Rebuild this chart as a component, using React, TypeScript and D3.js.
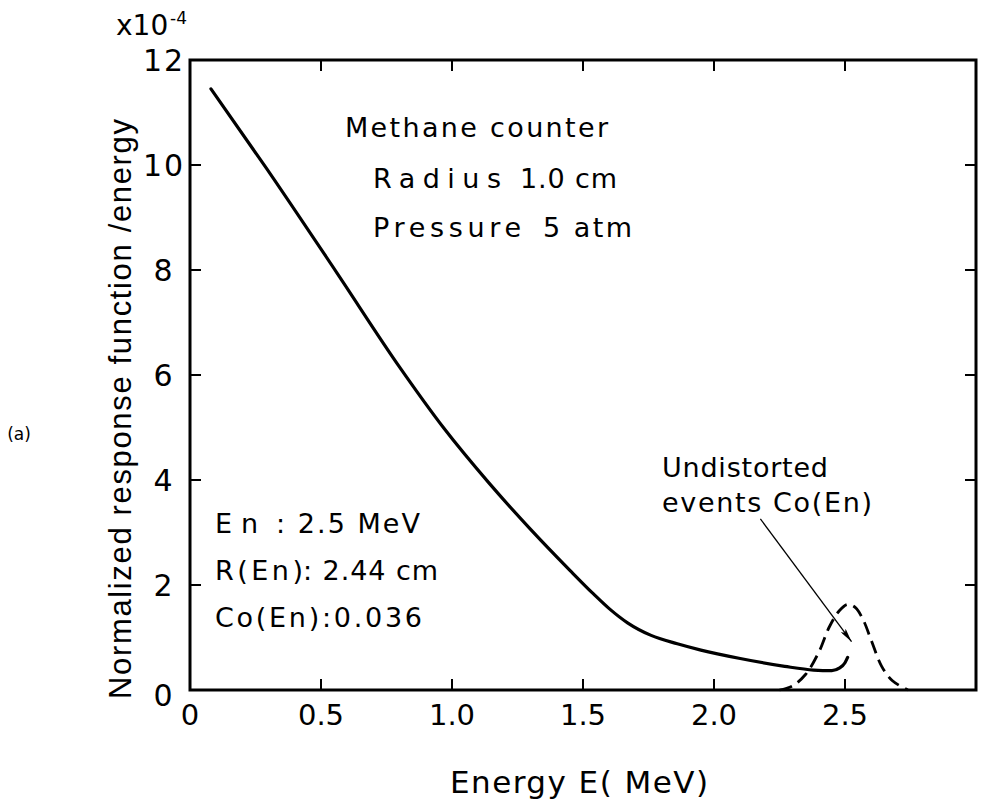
import React from 'react';
import * as d3 from 'd3';

// energy (MeV) and response / energy (x10^-4)
const solidE = [0.08, 0.29, 0.56, 0.80, 0.97, 1.14, 1.30, 1.45, 1.54, 1.60, 1.67, 1.76, 1.86, 1.95, 2.10, 2.27, 2.38, 2.45, 2.48, 2.50, 2.51];
const solidV = [11.45, 9.95, 7.95, 6.15, 4.98, 3.95, 3.06, 2.28, 1.83, 1.55, 1.28, 1.04, 0.88, 0.76, 0.6, 0.45, 0.38, 0.37, 0.42, 0.52, 0.62];

const dashE = [2.25, 2.30, 2.35, 2.40, 2.44, 2.48, 2.51, 2.54, 2.57, 2.60, 2.64, 2.68, 2.74];
const dashV = [0, 0.08, 0.3, 0.72, 1.2, 1.52, 1.63, 1.57, 1.33, 0.95, 0.45, 0.18, 0];

const xTicks = [0, 0.5, 1.0, 1.5, 2.0, 2.5];
const xTickLabels = ['0', '0.5', '1.0', '1.5', '2.0', '2.5'];
const xTicksFrame = [0.5, 1.0, 1.5, 2.0, 2.5];
const yTicks = [0, 2, 4, 6, 8, 10, 12];
const yTickLabels = ['0', '2', '4', '6', '8', '10', '12'];

// arrow of the "Undistorted events" note, in data units
const arrowFrom = [2.177, 3.26];
const arrowTo = [2.525, 0.92];

const font = "'DejaVu Sans', Verdana, sans-serif";
const font2 = "'Liberation Sans', Arial, sans-serif";

export default function App() {
    const margin = {left: 190, right: 24, top: 60, bottom: 116};
    const W = 1000, H = 806;
    const x = d3.scaleLinear().domain([0, 3]).range([margin.left, W - margin.right]);
    const y = d3.scaleLinear().domain([0, 12]).range([H - margin.bottom, margin.top]);

    const line = d3.line<number>()
        .x((d, i) => x(solidE[i]))
        .y(d => y(d))
        .curve(d3.curveMonotoneX);
    const dline = d3.line<number>()
        .x((d, i) => x(dashE[i]))
        .y(d => y(d))
        .curve(d3.curveCatmullRom);

    const x0 = x(0), x1 = x(3), y0 = y(0), y1 = y(12);

    return (
        <svg width={W} height={H} style={{position: 'absolute', left: 0, top: 0, background: '#fff'}}
             fontFamily={font}>
            <defs>
                <marker id="arr" viewBox="0 0 14 6" refX="14" refY="3" markerWidth="14" markerHeight="6"
                        markerUnits="userSpaceOnUse" orient="auto">
                    <path d="M0,0 L14,3 L0,6 L3,3 Z" fill="#000"/>
                </marker>
            </defs>

            {/* frame */}
            <rect x={x0} y={y1} width={x1 - x0} height={y0 - y1} fill="none" stroke="#000" strokeWidth={3}/>

            {/* ticks, all pointing inward */}
            {xTicksFrame.map(t => (
                <g key={'xt' + t}>
                    <line x1={x(t)} x2={x(t)} y1={y0} y2={y0 - 11} stroke="#000" strokeWidth={2}/>
                    <line x1={x(t)} x2={x(t)} y1={y1} y2={y1 + 11} stroke="#000" strokeWidth={2}/>
                </g>
            ))}
            {yTicks.slice(1, -1).map(t => (
                <g key={'yt' + t}>
                    <line x1={x0} x2={x0 + 11} y1={y(t)} y2={y(t)} stroke="#000" strokeWidth={2}/>
                    <line x1={x1} x2={x1 - 11} y1={y(t)} y2={y(t)} stroke="#000" strokeWidth={2}/>
                </g>
            ))}

            {/* tick labels */}
            {xTicks.map((t, i) => (
                <text key={'xl' + t} x={x(t)} y={y0 + 35} fontSize={29} textAnchor="middle">
                    {xTickLabels[i]}
                </text>
            ))}
            {yTicks.map((t, i) => (
                <text key={'yl' + t} x={164} y={y(t) + 11 + (t === 0 ? 5 : 0)} fontSize={30} textAnchor="middle"
                      letterSpacing={2}>
                    {yTickLabels[i]}
                </text>
            ))}
            <text x={116} y={35} fontSize={28}>x10</text>
            <text x={170} y={24} fontSize={17}>-4</text>

            {/* axis titles */}
            <text x={450} y={793} fontSize={31} textLength={258} lengthAdjust="spacing">Energy  E( MeV)</text>
            <text transform="translate(131,409) rotate(-90)" fontSize={31} textAnchor="middle" fontFamily={font2}
                  textLength={580} lengthAdjust="spacing">Normalized response function /energy</text>
            <text x={19} y={440} fontSize={17} textAnchor="middle">(a)</text>

            {/* curves */}
            <path d={line(solidV) || ''} fill="none" stroke="#000" strokeWidth={3.2} strokeLinejoin="round"
                  strokeLinecap="round"/>
            <path d={dline(dashV) || ''} fill="none" stroke="#000" strokeWidth={2.8} strokeDasharray="13 7"/>

            {/* annotations */}
            <text x={345} y={137} fontSize={27} textLength={263} lengthAdjust="spacing">Methane  counter</text>
            <text x={373} y={188} fontSize={27} textLength={128} lengthAdjust="spacing">Radius</text>
            <text x={520} y={188} fontSize={27} textLength={97} lengthAdjust="spacing">1.0 cm</text>
            <text x={373} y={237} fontSize={27} textLength={148} lengthAdjust="spacing">Pressure</text>
            <text x={543} y={237} fontSize={27} textLength={89} lengthAdjust="spacing">5 atm</text>

            <text x={215} y={533} fontSize={27} textLength={43} lengthAdjust="spacing">En</text>
            <text x={276} y={533} fontSize={27} textLength={144} lengthAdjust="spacing">: 2.5 MeV</text>
            <text x={215} y={580} fontSize={27} textLength={88} lengthAdjust="spacing">R(En)</text>
            <text x={303} y={580} fontSize={27} textLength={135} lengthAdjust="spacing">:  2.44 cm</text>
            <text x={215} y={627} fontSize={27} textLength={207} lengthAdjust="spacing">Co(En):0.036</text>

            <text x={662} y={477} fontSize={27} textLength={166} lengthAdjust="spacing">Undistorted</text>
            <text x={662} y={512} fontSize={27} textLength={210} lengthAdjust="spacing">events  Co(En)</text>

            <line x1={x(arrowFrom[0])} y1={y(arrowFrom[1])} x2={x(arrowTo[0])} y2={y(arrowTo[1])}
                  stroke="#000" strokeWidth={1.3} markerEnd="url(#arr)"/>
        </svg>
    );
}
